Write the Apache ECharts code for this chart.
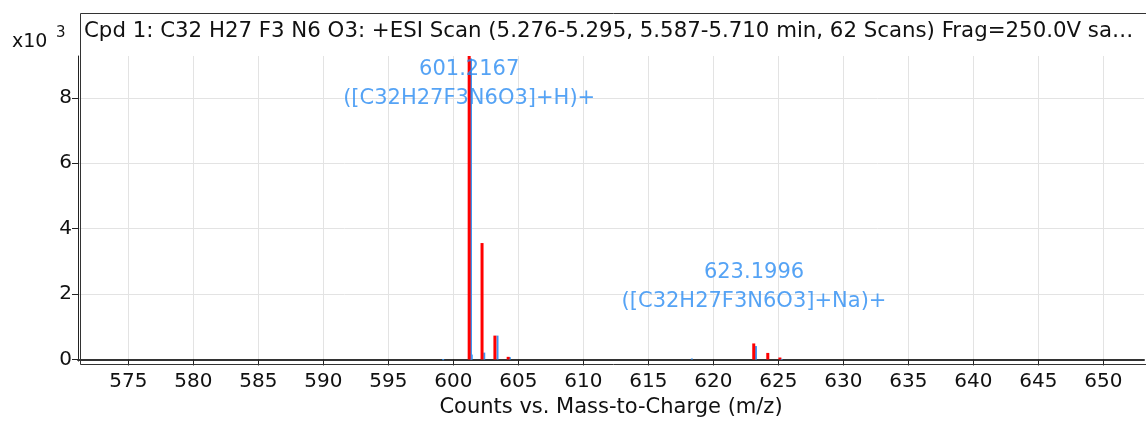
<!DOCTYPE html>
<html>
<head>
<meta charset="utf-8">
<script src="https://cdn.jsdelivr.net/npm/echarts@6/dist/echarts.min.js"></script>
<style>
html,body{margin:0;padding:0;background:#fff;}
#c{width:1146px;height:423px;}
</style>
</head>
<body>
<div id="c"></div>
<script>
// ---- data ----
const titleText = 'Cpd 1: C32 H27 F3 N6 O3: +ESI Scan (5.276-5.295, 5.587-5.710 min, 62 Scans) Frag=250.0V sa\u2026';
const xAxisName = 'Counts vs. Mass-to-Charge (m/z)';
const xTicks = [575, 580, 585, 590, 595, 600, 605, 610, 615, 620, 625, 630, 635, 640, 645, 650];
const yTicks = [0, 2, 4, 6, 8];
const xRange = [571.13, 653.13];
const yRange = [-0.05, 9.28];
// measured spectrum (red), intensity x10^3
const redMz  = [601.22, 602.21, 603.20, 604.22, 623.11, 624.19, 625.12];
const redInt = [9.28,   3.56,   0.73,   0.08,   0.49,   0.20,   0.06];
// isotope / reference peaks (blue), intensity x10^3
const blueMz  = [599.22, 601.36, 601.42, 602.38, 603.40, 604.35, 618.35, 623.28, 625.25];
const blueInt = [0.01,   9.20,   0.15,   0.21,   0.73,   0.07,   0.03,   0.41,   0.02];
// peak annotations
const annMz   = [601.22, 623.13];
const annY    = [8.42, 2.20];
const annText = ['601.2167\n([C32H27F3N6O3]+H)+', '623.1996\n([C32H27F3N6O3]+Na)+'];

const FONT = 'DejaVu Sans';
const chart = echarts.init(document.getElementById('c'), null, {renderer: 'canvas'});

function barSeries(name, mz, inten, color, w) {
  return {
    name: name,
    type: 'custom',
    data: mz.map((m, i) => [m, inten[i]]),
    clip: true,
    renderItem: function (params, api) {
      const p0 = api.coord([api.value(0), 0]);
      const p1 = api.coord([api.value(0), api.value(1)]);
      return {
        type: 'rect',
        shape: {x: p0[0] - w / 2, y: p1[1], width: w, height: Math.max(p0[1] - p1[1], 1)},
        style: {fill: color}
      };
    },
    z: 3
  };
}

const option = {
  animation: false,
  backgroundColor: '#fff',
  grid: {left: 78, right: 2, top: 56, bottom: 61, containLabel: false},
  xAxis: {
    type: 'value',
    min: xRange[0], max: xRange[1],
    name: xAxisName,
    nameLocation: 'middle',
    nameGap: 33,
    nameTextStyle: {fontFamily: FONT, fontSize: 21, color: '#111'},
    axisLine: {show: true, lineStyle: {color: '#333', width: 2}},
    axisTick: {show: true, customValues: xTicks, length: 6, lineStyle: {color: '#222', width: 1}},
    axisLabel: {show: true, customValues: xTicks, margin: 11, fontFamily: FONT, fontSize: 20, color: '#111'},
    splitLine: {show: true, lineStyle: {color: '#e3e3e3', width: 1}}
  },
  yAxis: {
    type: 'value',
    min: yRange[0], max: yRange[1],
    axisLine: {show: true, lineStyle: {color: '#222', width: 1}},
    axisTick: {show: true, customValues: yTicks, length: 6, lineStyle: {color: '#222'}},
    axisLabel: {show: true, customValues: yTicks, margin: 6, fontFamily: FONT, fontSize: 20, color: '#111'},
    splitLine: {show: true, lineStyle: {color: '#e3e3e3', width: 1}}
  },
  series: [
    barSeries('blue', blueMz, blueInt, '#3a96f5', 2),
    barSeries('red', redMz, redInt, '#ff0000', 3),
    {
      type: 'scatter',
      data: annMz.map((m, i) => [m, annY[i]]),
      symbolSize: 0,
      silent: true,
      z: 5,
      label: {
        show: true,
        position: 'inside',
        formatter: function (p) { return annText[p.dataIndex]; },
        fontFamily: FONT, fontSize: 21, color: '#2a8cf2',
        lineHeight: 29, align: 'center', verticalAlign: 'middle'
      }
    }
  ],
  graphic: [
    {type: 'rect', left: 78, top: 11, shape: {width: 1066, height: 351}, style: {fill: 'none', stroke: '#333', lineWidth: 1}, silent: true, z: 10},
    {type: 'text', left: 84, top: 21, style: {text: titleText, font: '21.3px "DejaVu Sans"', fill: '#111'}, z: 11},
    {type: 'text', left: 12, top: 33, style: {text: 'x10', font: '19px "DejaVu Sans"', fill: '#111'}, z: 11},
    {type: 'text', left: 56, top: 26, style: {text: '3', font: '15px "DejaVu Sans"', fill: '#111'}, z: 11}
  ]
};
chart.setOption(option);
</script>
</body>
</html>
